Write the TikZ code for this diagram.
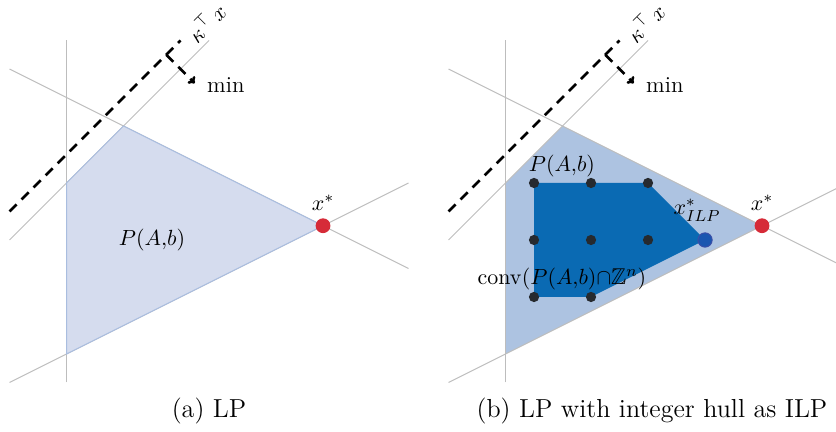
\documentclass[tikz,border=0pt]{standalone}
\usepackage{amsmath,amssymb}
\usepackage{tikz}
\usetikzlibrary{arrows.meta,positioning}
\definecolor{lpFill}{HTML}{D5DCEE}
\definecolor{lpEdge}{HTML}{A9BDDF}
\definecolor{lpFillB}{HTML}{ADC3E1}
\definecolor{hullBlue}{HTML}{0A6AB3}
\definecolor{optRed}{HTML}{D62B38}
\definecolor{ilpBlue}{HTML}{1A56B0}
\definecolor{ilpEdge}{HTML}{3A4FA8}
\definecolor{latDot}{HTML}{262A2F}
\definecolor{cstrGray}{HTML}{BDBDBD}

\begin{document}
\begin{tikzpicture}[font=\fontsize{11.4}{13}\selectfont, >={To[length=3pt,width=5pt]},
  cstr/.style={cstrGray,line width=0.5pt},
  obj/.style={black,line width=1.3pt,dash pattern=on 5pt off 3.5pt},
  optdot/.style={circle,fill=optRed,minimum size=2.6mm,inner sep=0pt},
  ilpdot/.style={circle,fill=ilpBlue,draw=ilpEdge,line width=0.5pt,minimum size=2.5mm,inner sep=0pt},
  latdot/.style={circle,fill=latDot,minimum size=1.8mm,inner sep=0pt},
  capt/.style={font=\fontsize{13}{15}\selectfont}]
\useasboundingbox (-1.667,-3.368) rectangle (13.0,4.2105);
% --- (a) LP ---
\begin{scope}
  \draw[cstr] (-0.5,-2.5) -- (-0.5,3.5);
  \draw[cstr] (-1.5,3) -- (5.5,-0.5);
  \draw[cstr] (-1.5,-2.5) -- (5.5,1);
  \draw[cstr] (-1.5,0) -- (2,3.5);
  \filldraw[fill=lpFill,draw=lpEdge,line width=0.5pt]
    (-0.5,1) -- (0.5,2) -- (4,0.25) -- (-0.5,-2) -- cycle;
  % objective
  \coordinate (objA) at (-1.5,0.5);
  \coordinate (objB) at (1.5,3.5);
  \coordinate (dirA) at (1.25,3.25);
  \coordinate (dirB) at (1.75,2.75);
  \draw[obj] (objA) -- (objB);
  \draw[obj,->] (dirA) -- (dirB);
  \node[right=5pt of dirB, yshift=-1pt, inner sep=1pt] (minA) {min};
  \node[rotate=45] (objlabA) at (1.95,3.82) {$\kappa^{\top}\,x$};
  \node (plabA) at (1,0) {$P(A{,}b)$};
  \node[optdot] (xlpA) at (4,0.25) {};
  \node[above=0pt of xlpA] (xlplabA) {$x^*$};
  \node[capt] (captA) at (2,-3.0) {(a) LP};
\end{scope}
% --- (b) LP with integer hull ---
\begin{scope}[xshift=7.702cm]
  \fill[lpFillB] (-0.5,1) -- (0.5,2) -- (4,0.25) -- (-0.5,-2) -- cycle;
  \draw[cstr] (-0.5,-2.5) -- (-0.5,3.5);
  \draw[cstr] (-1.5,3) -- (5.5,-0.5);
  \draw[cstr] (-1.5,-2.5) -- (5.5,1);
  \draw[cstr] (-1.5,0) -- (2,3.5);
  \fill[hullBlue] (0,1) -- (2,1) -- (3,0) -- (1,-1) -- (0,-1) -- cycle;
  \foreach \i/\j in {0/1,1/1,2/1,0/0,1/0,2/0,0/-1,1/-1}
    \node[latdot] (z\i\j) at (\i,\j) {};
  % objective
  \coordinate (objC) at (-1.5,0.5);
  \coordinate (objD) at (1.5,3.5);
  \coordinate (dirC) at (1.25,3.25);
  \coordinate (dirD) at (1.75,2.75);
  \draw[obj] (objC) -- (objD);
  \draw[obj,->] (dirC) -- (dirD);
  \node[right=5pt of dirD, yshift=-1pt, inner sep=1pt] (minB) {min};
  \node[rotate=45] (objlabB) at (1.95,3.82) {$\kappa^{\top}\,x$};
  \node (plabB) at (0.49,1.29) {$P(A{,}b)$};
  \node (convlab) at (0.49,-0.69) {$\mathrm{conv}(P(A{,}b){\cap}\mathbb{Z}^n)$};
  \node[ilpdot] (xilp) at (3,0) {};
  \node[above=0.7mm of xilp, xshift=-1.4mm] (xilplab) {$x^*_{ILP}$};
  \node[optdot] (xlpB) at (4,0.25) {};
  \node[above=0pt of xlpB] (xlplabB) {$x^*$};
  \node[capt] (captB) at (2.07,-3.0) {(b) LP with integer hull as ILP};
\end{scope}
\end{tikzpicture}
\end{document}
